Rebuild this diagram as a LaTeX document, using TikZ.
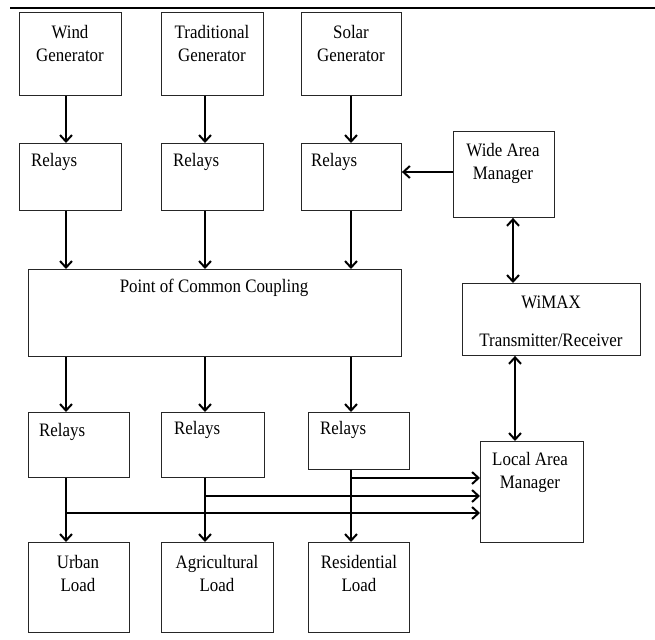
\documentclass[tikz,border=0pt]{standalone}
\usepackage{fontspec}
\setmainfont[FakeStretch=0.89]{Liberation Serif}
\usetikzlibrary{arrows.meta}
\begin{document}
\begin{tikzpicture}[x=1pt,y=-1pt,
  box/.style={draw=black!85,line width=0.9pt,anchor=north west,inner sep=0pt,fill=white},
  txt/.style={inner sep=0pt,align=center,font=\fontsize{19}{23}\selectfont},
  ltxt/.style={inner sep=0pt,anchor=west,font=\fontsize{19}{23}\selectfont},
  arr/.style={line width=2.3pt,-{Straight Barb[length=6.5pt,width=12pt,line width=2pt]}},
  darr/.style={line width=2.3pt,{Straight Barb[length=6.5pt,width=12pt,line width=2pt]}-{Straight Barb[length=6.5pt,width=12pt,line width=2pt]}},
  plain/.style={line width=2.3pt}]
\useasboundingbox (0,0) rectangle (655,639);
\fill[white] (0,0) rectangle (655,639);
% top rule
\coordinate (ruleL) at (10,8);
\coordinate (ruleR) at (655,8);
\draw[line width=1.2pt] (ruleL) -- (ruleR);
% column coordinates
\coordinate (cA) at (66,0);
\coordinate (cB) at (205,0);
\coordinate (cC) at (351,0);
\coordinate (cM1) at (513,0);
\coordinate (cM2) at (515,0);
\coordinate (hW) at (0,172);
\coordinate (b1) at (351,478);
\coordinate (b2) at (205,496);
\coordinate (b3) at (66,513);
% generators
\node[box,minimum width=102pt,minimum height=83pt] (wg) at (19,12) {};
\node[box,minimum width=102pt,minimum height=83pt] (tg) at (161,12) {};
\node[box,minimum width=100pt,minimum height=83pt] (sg) at (301,12) {};
\node[txt] (wgt) at (70,43.5) {Wind\\Generator};
\node[txt] (tgt) at (212,43.5) {Traditional\\Generator};
\node[txt] (sgt) at (351,43.5) {Solar\\Generator};
% relays row 1
\node[box,minimum width=102pt,minimum height=67pt] (wr) at (19,143) {};
\node[box,minimum width=102pt,minimum height=67pt] (tr) at (161,143) {};
\node[box,minimum width=100pt,minimum height=67pt] (sr) at (301,143) {};
\node[ltxt] (wrt) at (31,162) {Relays};
\node[ltxt] (trt) at (173,162) {Relays};
\node[ltxt] (srt) at (311,162) {Relays};
% wide area manager
\node[box,minimum width=101pt,minimum height=86pt] (wam) at (453,131) {};
\node[txt] (wamt) at (503,163) {Wide Area\\Manager};
% PCC
\node[box,minimum width=373pt,minimum height=87pt] (pcc) at (28,269) {};
\node[txt] (pcct) at (214,288) {Point of Common Coupling};
% WiMAX
\node[box,minimum width=178pt,minimum height=72pt] (wmx) at (462,283) {};
\node[txt,font=\fontsize{19}{38}\selectfont] (wmxt) at (551,321) {WiMAX\\Transmitter/Receiver};
% relays row 2
\node[box,minimum width=101pt,minimum height=65pt] (ur) at (28,412) {};
\node[box,minimum width=103pt,minimum height=65pt] (ar) at (161,412) {};
\node[box,minimum width=101pt,minimum height=57pt] (rr) at (308,412) {};
\node[ltxt] (urt) at (39,432) {Relays};
\node[ltxt] (art) at (174,430) {Relays};
\node[ltxt] (rrt) at (320,430) {Relays};
% local area manager
\node[box,minimum width=103pt,minimum height=101pt] (lam) at (480,441) {};
\node[txt] (lamt) at (530,472.5) {Local Area\\Manager};
% loads
\node[box,minimum width=101pt,minimum height=90pt] (ul) at (28,542) {};
\node[box,minimum width=112pt,minimum height=90pt] (al) at (161,542) {};
\node[box,minimum width=101pt,minimum height=90pt] (rl) at (308,542) {};
\node[txt] (ult) at (78,573.5) {Urban\\Load};
\node[txt] (alt) at (217,573.5) {Agricultural\\Load};
\node[txt] (rlt) at (359,573.5) {Residential\\Load};
% connectors: generators -> relays
\draw[arr] (wg.south -| cA) -- (wr.north -| cA);
\draw[arr] (tg.south -| cB) -- (tr.north -| cB);
\draw[arr] (sg.south -| cC) -- (sr.north -| cC);
% relays -> PCC
\draw[arr] (wr.south -| cA) -- (pcc.north -| cA);
\draw[arr] (tr.south -| cB) -- (pcc.north -| cB);
\draw[arr] (sr.south -| cC) -- (pcc.north -| cC);
% WAM -> solar relays
\draw[arr] (wam.west |- hW) -- (sr.east |- hW);
% WAM <-> WiMAX <-> LAM
\draw[darr] (wam.south -| cM1) -- (wmx.north -| cM1);
\draw[darr] (wmx.south -| cM2) -- (lam.north -| cM2);
% PCC -> relays row 2
\draw[arr] (pcc.south -| cA) -- (ur.north -| cA);
\draw[arr] (pcc.south -| cB) -- (ar.north -| cB);
\draw[arr] (pcc.south -| cC) -- (rr.north -| cC);
% relays row 2 -> loads
\draw[arr] (ur.south -| cA) -- (ul.north -| cA);
\draw[arr] (ar.south -| cB) -- (al.north -| cB);
\draw[arr] (rr.south -| cC) -- (rl.north -| cC);
% branches to LAM
\draw[arr] (b1) -- (b1 -| lam.west);
\draw[arr] (b2) -- (b2 -| lam.west);
\draw[arr] (b3) -- (b3 -| lam.west);
\end{tikzpicture}
\end{document}
